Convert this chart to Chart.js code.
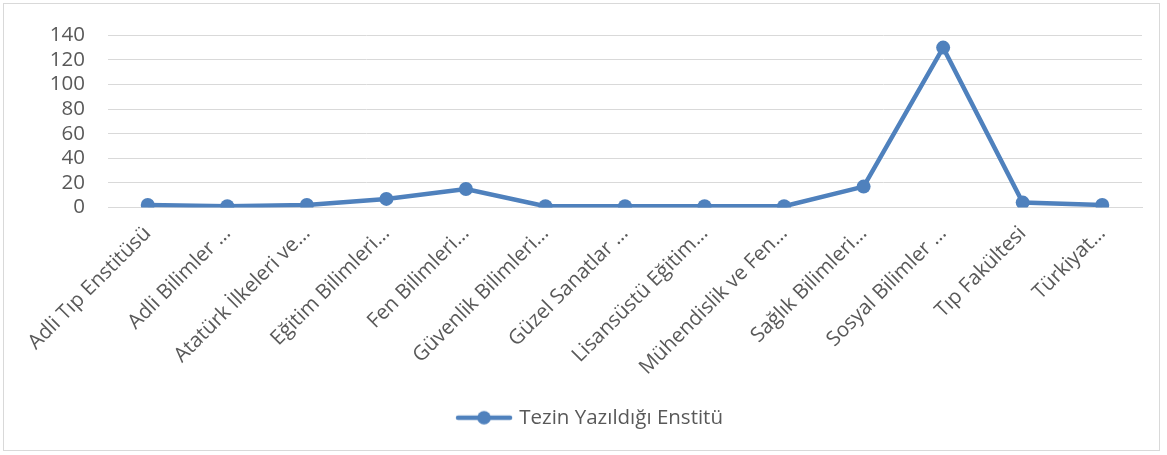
<!DOCTYPE html>
<html>
<head>
<meta charset="utf-8">
<script src="https://cdn.jsdelivr.net/npm/chart.js@4/dist/chart.umd.min.js"></script>
<style>
  html, body { margin: 0; padding: 0; background: #fff; }
  #wrap { position: relative; width: 1167px; height: 455px; }
  #frame { position: absolute; left: 3px; top: 3px; width: 1157px; height: 448px; border: 1px solid #d9d9d9; box-sizing: border-box; pointer-events: none; }
  canvas { position: absolute; left: 0; top: 0; }
</style>
</head>
<body>
<div id="wrap">
  <canvas id="c" width="1167" height="455"></canvas>
  <div id="frame"></div>
</div>
<script>
const categories = [
  "Adli Tıp Enstitüsü",
  "Adli Bilimler …",
  "Atatürk İlkeleri ve…",
  "Eğitim Bilimleri…",
  "Fen Bilimleri…",
  "Güvenlik Bilimleri…",
  "Güzel Sanatlar …",
  "Lisansüstü Eğitim…",
  "Mühendislik ve Fen…",
  "Sağlık Bilimleri…",
  "Sosyal Bilimler …",
  "Tıp Fakültesi",
  "Türkiyat…"
];
const seriesName = "Tezin Yazıldığı Enstitü";
const seriesValues = [2, 1, 2, 7, 15, 1, 1, 1, 1, 17, 130, 4, 2];
const yTicks = [0, 20, 40, 60, 80, 100, 120, 140];

const BLUE = '#4F81BD';
const TEXT = '#595959';
const FONT = "'Open Sans', sans-serif";

// legend marker: line with a circle
const marker = document.createElement('canvas');
marker.width = 58; marker.height = 16;
(function(){
  const g = marker.getContext('2d');
  g.strokeStyle = BLUE; g.lineWidth = 4.5; g.lineCap = 'round';
  g.beginPath(); g.moveTo(3, 8); g.lineTo(55, 8); g.stroke();
  g.fillStyle = BLUE;
  g.beginPath(); g.arc(29, 8, 6.8, 0, Math.PI * 2); g.fill();
})();

new Chart(document.getElementById('c'), {
  type: 'line',
  data: {
    labels: categories,
    datasets: [{
      label: seriesName,
      data: seriesValues,
      borderColor: BLUE,
      backgroundColor: BLUE,
      borderWidth: 4.5,
      pointRadius: 7,
      pointBackgroundColor: BLUE,
      pointBorderColor: BLUE,
      pointBorderWidth: 0,
      tension: 0,
      pointStyle: 'circle'
    }]
  },
  options: {
    responsive: false,
    animation: false,
    events: [],
    layout: { padding: { left: 40, right: 25, top: 30, bottom: 17 } },
    scales: {
      x: {
        offset: true,
        grid: { display: false, drawTicks: false },
        border: { display: true, color: '#d9d9d9', width: 1 },
        ticks: {
          autoSkip: false,
          maxRotation: 45,
          minRotation: 45,
          padding: 14,
          color: TEXT,
          font: { family: FONT, size: 20.5 }
        },
        afterFit(scale) { scale.height = 190; }
      },
      y: {
        min: 0,
        max: 140,
        afterBuildTicks(scale) { scale.ticks = yTicks.map(v => ({ value: v })); },
        grid: { color: '#d9d9d9', lineWidth: 1, drawTicks: false },
        border: { display: false },
        ticks: {
          autoSkip: false,
          padding: 23,
          color: TEXT,
          font: { family: FONT, size: 20.5 }
        },
        afterFit(scale) { scale.width = 68; }
      }
    },
    plugins: {
      tooltip: { enabled: false },
      legend: {
        position: 'bottom',
        labels: {
          usePointStyle: true,
          pointStyle: marker,
          pointStyleWidth: 50,
          color: TEXT,
          padding: 10,
          font: { family: FONT, size: 20.5 },
          generateLabels(chart) {
            return [{
              text: seriesName,
              pointStyle: marker,
              fillStyle: BLUE,
              strokeStyle: BLUE,
              lineWidth: 0,
              hidden: false,
              datasetIndex: 0,
              fontColor: TEXT
            }];
          }
        }
      }
    }
  }
});
</script>
</body>
</html>
